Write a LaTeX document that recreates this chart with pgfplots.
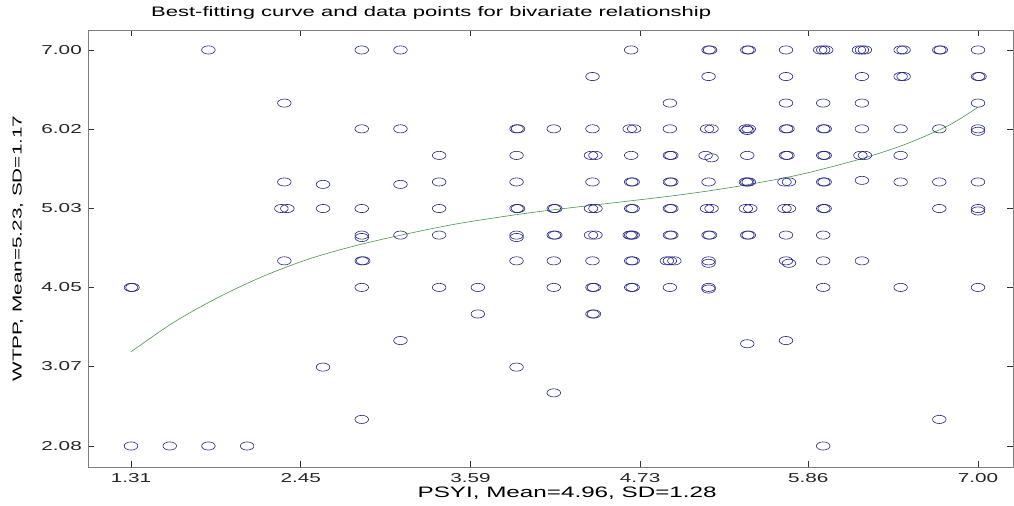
\documentclass[border=0pt]{standalone}
\usepackage{fontspec}
\setmainfont{Liberation Sans}[FakeStretch=1.6]
\usepackage{pgfplots}
\usepackage{pgfplotstable}
\pgfplotsset{compat=1.18}
\definecolor{ptblue}{RGB}{35,35,135}
\definecolor{fitgreen}{RGB}{70,150,70}
\definecolor{axgray}{RGB}{125,125,125}

% PSYI (x) against WTPP (y); repeated values are drawn slightly apart
\pgfplotstableread{
x y
1.83 7.00
2.86 7.00
3.12 7.00
4.67 7.00
5.19 7.00
5.20 7.00
5.45 7.00
5.46 7.00
5.71 7.00
5.94 7.00
5.96 7.00
5.98 7.00
6.20 7.00
6.22 7.00
6.24 7.00
6.48 7.00
6.50 7.00
6.74 7.00
6.75 7.00
7.00 7.00
4.41 6.67
5.19 6.67
5.71 6.67
6.22 6.67
6.48 6.67
6.50 6.67
7.00 6.67
7.01 6.67
2.34 6.34
4.93 6.34
5.71 6.34
5.96 6.34
6.22 6.34
7.00 6.34
2.86 6.02
3.12 6.02
3.90 6.02
3.91 6.02
4.15 6.02
4.41 6.02
4.66 6.02
4.69 6.02
4.93 6.02
5.18 6.02
5.21 6.02
5.44 6.02
5.45 6.00
5.46 6.02
5.71 6.02
5.72 6.02
5.96 6.02
5.97 6.02
6.22 6.02
6.48 6.02
6.74 6.02
7.00 6.02
7.00 5.99
3.38 5.69
3.90 5.69
4.40 5.69
4.43 5.69
4.67 5.69
4.93 5.69
4.94 5.69
5.17 5.69
5.21 5.66
5.45 5.69
5.71 5.69
5.72 5.69
5.96 5.69
5.97 5.69
6.21 5.69
6.24 5.69
6.48 5.69
2.34 5.36
2.60 5.33
3.12 5.33
3.38 5.36
3.90 5.36
4.41 5.36
4.67 5.36
4.68 5.36
4.93 5.36
4.94 5.36
5.19 5.36
5.44 5.36
5.45 5.36
5.46 5.36
5.70 5.36
5.73 5.36
5.96 5.36
5.97 5.36
6.22 5.38
6.48 5.36
6.74 5.36
7.00 5.36
2.32 5.03
2.36 5.03
2.60 5.03
2.86 5.03
3.38 5.03
3.90 5.03
3.91 5.03
4.15 5.03
4.16 5.03
4.40 5.03
4.43 5.03
4.67 5.03
4.68 5.03
4.93 5.03
4.94 5.03
5.18 5.03
5.21 5.03
5.44 5.03
5.47 5.03
5.70 5.03
5.73 5.03
5.96 5.03
5.97 5.03
6.74 5.03
7.00 5.03
7.00 5.00
2.86 4.70
2.86 4.67
3.12 4.70
3.38 4.70
3.90 4.70
3.90 4.67
4.15 4.70
4.16 4.70
4.40 4.70
4.43 4.70
4.66 4.70
4.67 4.70
4.68 4.70
4.93 4.70
4.94 4.70
5.19 4.70
5.20 4.70
5.45 4.70
5.46 4.70
5.71 4.70
5.96 4.70
2.34 4.38
2.86 4.38
2.87 4.38
3.90 4.38
4.15 4.38
4.41 4.38
4.67 4.38
4.68 4.38
4.91 4.38
4.93 4.38
4.96 4.38
5.19 4.38
5.19 4.35
5.71 4.38
5.73 4.35
5.96 4.38
6.22 4.38
1.31 4.05
1.32 4.05
2.86 4.05
3.38 4.05
3.64 4.05
4.15 4.05
4.41 4.05
4.42 4.05
4.67 4.05
4.68 4.05
4.93 4.05
5.19 4.05
5.19 4.03
5.96 4.05
6.48 4.05
7.00 4.05
3.64 3.72
4.41 3.72
4.42 3.72
3.12 3.39
5.45 3.35
5.71 3.39
2.60 3.06
3.90 3.06
4.15 2.74
2.86 2.41
6.74 2.41
1.31 2.08
1.57 2.08
1.83 2.08
2.09 2.08
5.96 2.08
}\pts

\begin{document}
\begin{tikzpicture}
\useasboundingbox (-88bp,-39bp) rectangle (926bp,467bp);
\begin{axis}[
  at={(0bp,0bp)}, anchor=south west,
  scale only axis, width=925bp, height=437bp,
  xmin=1.021, xmax=7.235, ymin=1.819, ymax=7.248,
  axis line style={axgray, line width=0.9bp},
  tick style={black!80, line width=0.6bp},
  tick align=inside, major tick length=6bp,
  xtick={1.31,2.45,3.59,4.73,5.86,7.00},
  xticklabels={1.31,2.45,3.59,4.73,5.86,7.00},
  ytick={2.08,3.07,4.05,5.03,6.02,7.00},
  yticklabels={2.08,3.07,4.05,5.03,6.02,7.00},
  ticklabel style={font=\fontsize{13}{15}\selectfont, text=black!85},
  xticklabel style={anchor=base, yshift=-16bp},
  yticklabel style={anchor=east, xshift=-2.7bp},
  title={Best-fitting curve and data points for bivariate relationship},
  title style={at={(axis description cs:0.371,1.0252)}, anchor=center, font=\fontsize{13.8}{16}\selectfont},
  xlabel={PSYI, Mean=4.96, SD=1.28},
  xlabel style={at={(axis description cs:0.518,-0.0595)}, anchor=center, font=\fontsize{15.2}{17}\selectfont},
  ylabel={WTPP, Mean=5.23, SD=1.17},
  ylabel style={at={(axis description cs:-0.0757,0.5)}, anchor=center, rotate=0, font=\fontsize{13}{15}\selectfont},
  clip=false,
]
\addplot[only marks, mark=o, mark size=6.8bp, ptblue,
  mark options={yscale=0.6, line width=0.6bp}] table {\pts};
\addplot[fitgreen, line width=0.6bp, smooth] coordinates {
  (1.31,3.25) (1.60,3.62) (1.90,3.93) (2.20,4.19) (2.50,4.40) (2.80,4.56)
  (3.10,4.69) (3.50,4.84) (4.00,4.98) (4.50,5.09) (5.00,5.20) (5.40,5.31)
  (5.80,5.45) (6.20,5.64) (6.50,5.82) (6.80,6.06) (7.00,6.29)};
\end{axis}
\end{tikzpicture}
\end{document}
